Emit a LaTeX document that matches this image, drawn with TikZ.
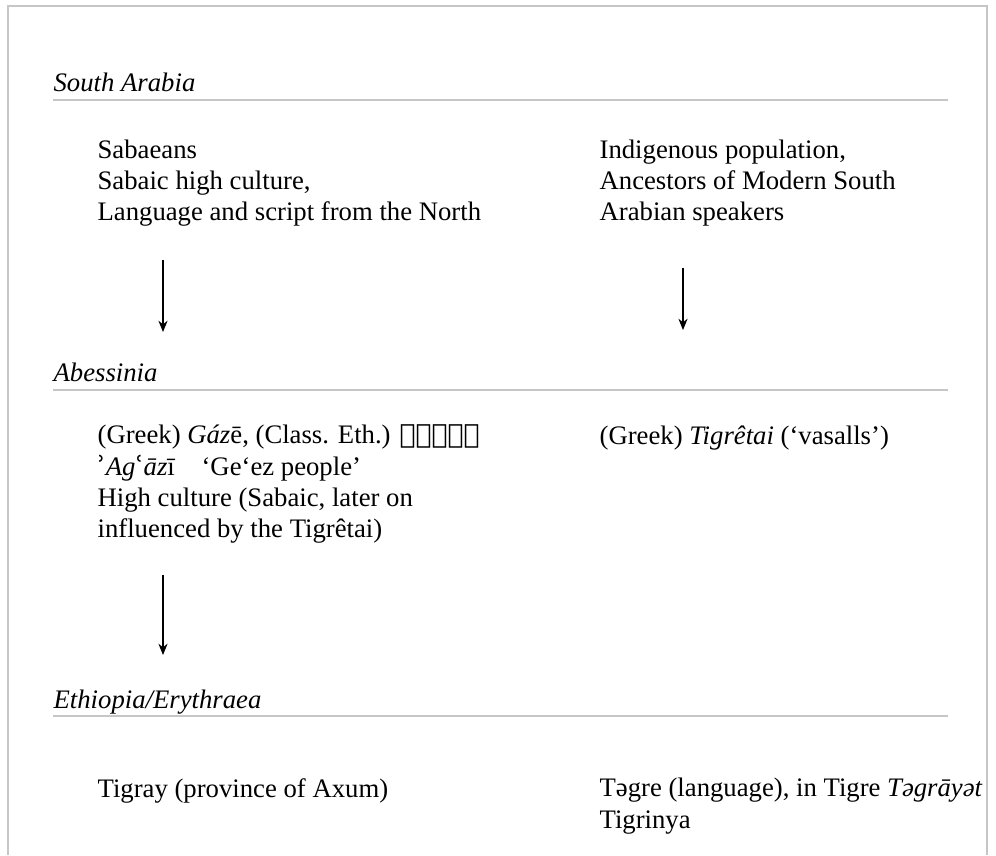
\documentclass[tikz,border=0pt]{standalone}
\usepackage{fontspec}
\setmainfont{Liberation Serif}
\newfontfamily\ethfont{DejaVu Sans}
\newfontfamily\ringfont{DejaVu Serif}
\usetikzlibrary{arrows.meta, positioning}

\begin{document}
\begin{tikzpicture}[
    >={Stealth[length=8pt,width=6.5pt,inset=2.5pt]},
    font=\fontsize{19}{22.3}\selectfont,
    line width=0.9pt,
    heading/.style={anchor=base west, inner sep=0pt, font=\fontsize{19}{22}\selectfont\itshape},
    block/.style={anchor=base west, inner sep=0pt, align=left},
    rule/.style={draw=gray!45, line width=1.8pt}
]

\useasboundingbox (0,0) rectangle (24.9,21.375);

% Frame, open at the bottom
\draw[gray!45, line width=1.4pt] (0.2,0) -- (0.2,21.225) -- (24.675,21.225) -- (24.675,0);

% South Arabia (block nodes sit on the baseline of their last line)
\node[heading] (southarabia) at (1.325,19.075) {South Arabia};
\draw[rule] (1.325,18.875) -- (23.7,18.875);

\node[block] (sabaeans) at (2.425,15.85) {Sabaeans\\Sabaic high culture,\\Language and script from the North};
\node[block] (indigenous) at (14.975,15.85) {Indigenous population,\\Ancestors of Modern South\\Arabian speakers};

\coordinate (sabtail) at (4.075,14.875);
\coordinate (sabhead) at (4.075,13.075);
\coordinate (indtail) at (17.075,14.675);
\coordinate (indhead) at (17.075,13.125);
\draw[->] (sabtail) -- (sabhead);
\draw[->] (indtail) -- (indhead);

% Abessinia
\node[heading] (abessinia) at (1.325,11.825) {Abessinia};
\draw[rule] (1.325,11.625) -- (23.7,11.625);

\node[block] (geez) at (2.425,7.925) {(Greek) \textit{Gáz}ē, (Class. Eth.) {\ethfont አግዓዚ፡}\\
    {\ringfont ʾ}\textit{Ag}{\ringfont ʿ}\textit{āz}ī\quad ‘Ge‘ez people’\\
    High culture (Sabaic, later on\\influenced by the Tigrêtai)};
\node[block] (tigretai) at (14.975,10.25) {(Greek) \textit{Tigrêtai} (‘vasalls’)};

\coordinate (geztail) at (4.075,7.0);
\coordinate (gezhead) at (4.075,5.0);
\draw[->] (geztail) -- (gezhead);

% Ethiopia/Erythraea
\node[heading] (ethiopia) at (1.325,3.675) {Ethiopia/Erythraea};
\draw[rule] (1.325,3.475) -- (23.7,3.475);

\node[block] (tigray) at (2.425,1.45) {Tigray (province of Axum)};
\node[block] (tegre) at (14.975,0.675) {Təgre (language), in Tigre \textit{Təgrāyət}\\Tigrinya};

\end{tikzpicture}
\end{document}
